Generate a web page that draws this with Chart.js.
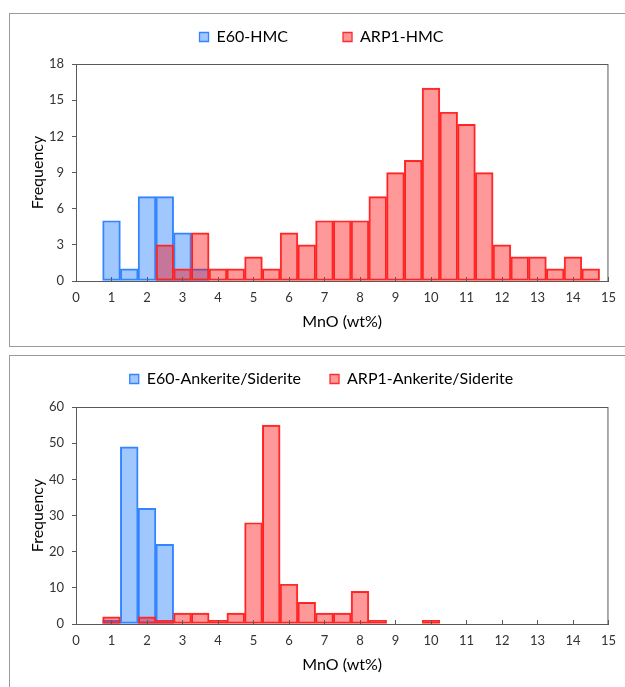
<!DOCTYPE html>
<html>
<head>
<meta charset="utf-8">
<script src="https://cdn.jsdelivr.net/npm/chart.js@4/dist/chart.umd.min.js"></script>
<style>
  html, body { margin: 0; padding: 0; background: #fff; overflow: hidden; }
  body { width: 625px; height: 687px; position: relative; }
  .panel { position: absolute; left: 9px; width: 700px; border: 1px solid #9a9a9a; }
  #panel1 { top: 13px; height: 332px; }
  #panel2 { top: 355px; height: 400px; }
  canvas { position: absolute; left: 10px; }
  #chart1 { top: 14px; }
  #chart2 { top: 357px; }
</style>
</head>
<body>
<div class="panel" id="panel1"></div>
<div class="panel" id="panel2"></div>
<canvas id="chart1" width="615" height="332"></canvas>
<canvas id="chart2" width="615" height="332"></canvas>
<script>
// shortcut for getElementById
function el(id) { return document.getElementById(id); }

// bin centres (MnO wt%), bins are 0.5 wide
const binCenters = [1, 1.5, 2, 2.5, 3, 3.5, 4, 4.5, 5, 5.5, 6, 6.5, 7, 7.5,
                    8, 8.5, 9, 9.5, 10, 10.5, 11, 11.5, 12, 12.5, 13, 13.5, 14, 14.5];

// top panel : HMC counts
const e60Hmc  = [5, 1, 7, 7, 4, 1, 0, 0, 0, 0, 0, 0, 0, 0,
                 0, 0, 0, 0, 0, 0, 0, 0, 0, 0, 0, 0, 0, 0];
const arp1Hmc = [0, 0, 0, 3, 1, 4, 1, 1, 2, 1, 4, 3, 5, 5,
                 5, 7, 9, 10, 16, 14, 13, 9, 3, 2, 2, 1, 2, 1];

// bottom panel : ankerite/siderite counts
const e60Ank  = [1, 49, 32, 22, 0, 0, 0, 0, 0, 0, 0, 0, 0, 0,
                 0, 0, 0, 0, 0, 0, 0, 0, 0, 0, 0, 0, 0, 0];
const arp1Ank = [2, 0, 2, 1, 3, 3, 1, 3, 28, 55, 11, 6, 3, 3,
                 9, 1, 0, 0, 1, 0, 0, 0, 0, 0, 0, 0, 0, 0];

const xTitle = "MnO (wt%)";
const yTitle = "Frequency";

const blueFill = "rgba(51,133,255,0.46)";
const blueLine = "#3385ff";
const redFill  = "rgba(255,0,0,0.4)";
const redLine  = "#ff2b2b";
const axisCol  = "#595959";
const fontName = "Lato, 'Open Sans', sans-serif";

// turns a count array into {x,y} points, skipping empty bins
function toPoints(counts) {
  return binCenters.map((c, i) => ({ x: c, y: counts[i] })).filter(p => p.y > 0);
}

// fixes legend height and nudges it to sit where the excel legend sits
// (only the top edge moves up, so the clip box still holds the labels)
function legendFix(height, dx, dy) {
  return {
    id: "legendFix",
    beforeInit(chart) {
      const lg = chart.legend;
      const fit = lg.fit;
      lg.fit = function () { fit.call(this); this.height = height; };
    },
    afterLayout(chart) {
      const lg = chart.legend;
      lg.left += dx; lg.right += dx;
      lg.top += dy;
    }
  };
}

// plot frame + x ticks pointing inward
const frame = {
  id: "frame",
  afterDatasetsDraw(chart) {
    const { ctx, chartArea: a, scales } = chart;
    ctx.save();
    ctx.strokeStyle = axisCol;
    ctx.lineWidth = 1;
    ctx.strokeRect(a.left + 0.5, a.top + 0.5, a.right - a.left - 1, a.bottom - a.top);
    ctx.beginPath();
    scales.x.ticks.forEach(t => {
      const px = Math.round(scales.x.getPixelForValue(t.value)) + 0.5;
      ctx.moveTo(px, a.bottom);
      ctx.lineTo(px, a.bottom - 4);
    });
    ctx.stroke();
    ctx.restore();
  }
};

function makeChart(canvasId, names, blueData, redData, yMax, yStep, legendPad, legendDy) {
  return new Chart(el(canvasId).getContext("2d"), {
    type: "bar",
    data: {
      datasets: [
        { label: names[0], data: toPoints(blueData), backgroundColor: blueFill,
          borderColor: blueLine, borderWidth: 1.3, borderSkipped: false, order: 2 },
        { label: names[1], data: toPoints(redData), backgroundColor: redFill,
          borderColor: redLine, borderWidth: 1.3, borderSkipped: false, order: 1 }
      ]
    },
    options: {
      responsive: false,
      animation: false,
      devicePixelRatio: 1,
      layout: { padding: { left: 0, right: 16, top: 0, bottom: 0 } },
      datasets: { bar: { grouped: false, barPercentage: 1, categoryPercentage: 1 } },
      plugins: {
        tooltip: { enabled: false },
        legend: {
          position: "top",
          labels: {
            boxWidth: 9, boxHeight: 9, padding: legendPad, color: "#000",
            font: { family: fontName, size: 16 },
            sort: (a, b) => a.datasetIndex - b.datasetIndex
          }
        }
      },
      scales: {
        x: {
          type: "linear", min: 0, max: 15, offset: false,
          afterFit(s) { s.height = 65; },
          grid: { display: true, drawOnChartArea: false, drawTicks: false, offset: false, color: axisCol },
          border: { display: true, color: axisCol },
          ticks: { stepSize: 1, padding: 9, color: "#333", font: { family: fontName, size: 13 },
                   maxRotation: 0, autoSkip: false },
          title: { display: true, text: xTitle, color: "#000",
                   font: { family: fontName, size: 16 }, padding: { top: 0, bottom: 15 } }
        },
        y: {
          min: 0, max: yMax,
          afterFit(s) { s.width = 66; },
          grid: { drawOnChartArea: false, drawTicks: true, tickLength: 4, color: axisCol },
          border: { display: true, color: axisCol },
          ticks: { stepSize: yStep, padding: 8, color: "#333", font: { family: fontName, size: 13 } },
          title: { display: true, text: yTitle, color: "#000",
                   font: { family: fontName, size: 16 }, padding: { top: 18, bottom: 0 } }
        }
      }
    },
    plugins: [legendFix(50, 12, legendDy), frame]
  });
}

makeChart("chart1", ["E60-HMC", "ARP1-HMC"], e60Hmc, arp1Hmc, 18, 3, 55, 23 - (55 + 8));
makeChart("chart2", ["E60-Ankerite/Siderite", "ARP1-Ankerite/Siderite"], e60Ank, arp1Ank, 60, 10, 29, 22 - (29 + 8));
</script>
</body>
</html>
